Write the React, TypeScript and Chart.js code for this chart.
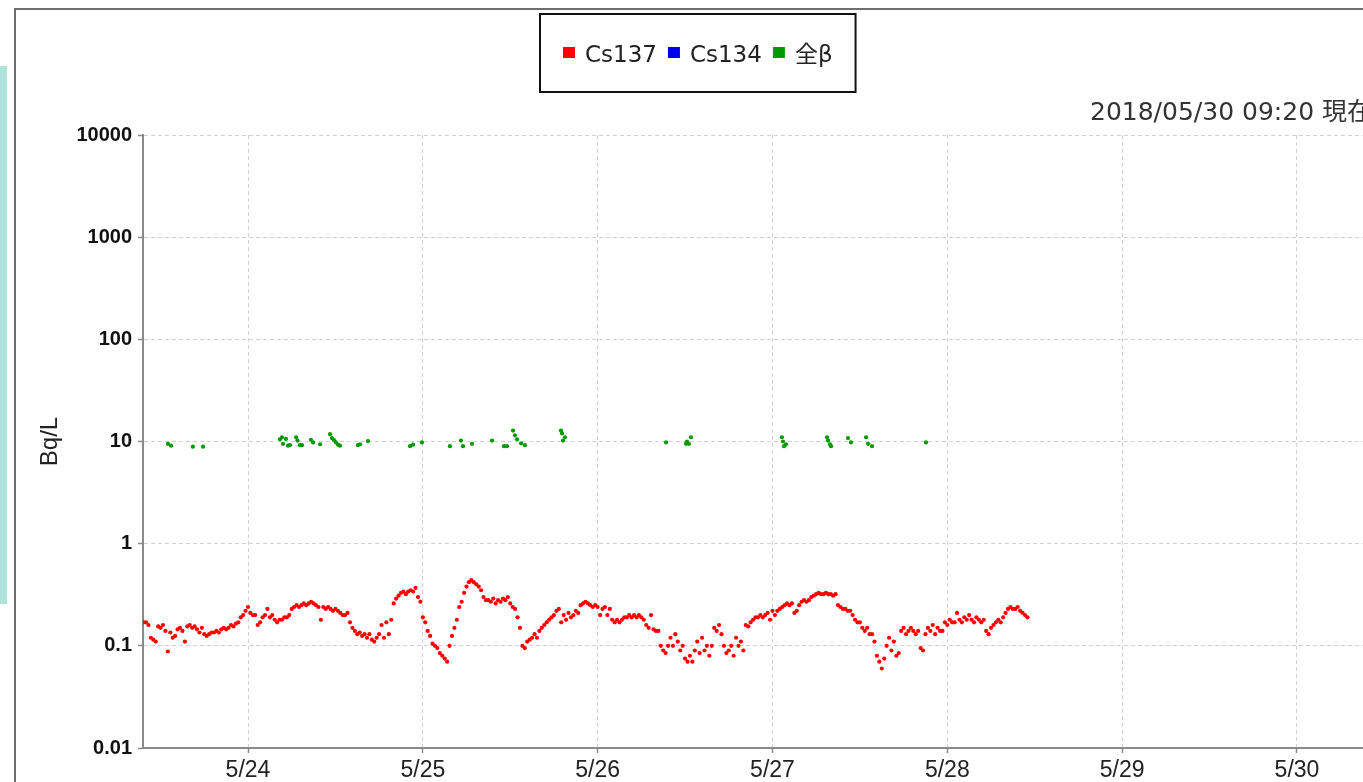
import { useEffect, useRef } from 'react';
import { Chart, registerables } from 'chart.js';

Chart.register(...registerables);

const seriesNames = ['Cs137', 'Cs134', '全β'];
const seriesColors = ['#ff0000', '#0000ee', '#009a00'];
const updatedLabel = '2018/05/30 09:20 現在';
const yAxisTitle = 'Bq/L';

const yTickValues = [0.01, 0.1, 1, 10, 100, 1000, 10000];
const yTickLabels = ['0.01', '0.1', '1', '10', '100', '1000', '10000'];
const xTickDays = [24, 25, 26, 27, 28, 29, 30];
const xTickLabels = ['5/24', '5/25', '5/26', '5/27', '5/28', '5/29', '5/30'];

// x axis in "day of May" (decimal days)
const xMinDay = 23.3994;
const xMaxDay = 30.3994;

// Cs137: one reading every 20 minutes from 5/23 09:40
const cs137StartDay = 23 + (9 * 60 + 40) / 1440;
const cs137StepDays = 20 / 1440;
const cs137Values = [
  0.17, 0.17, 0.16, 0.12, 0.115, 0.11, 0.155, 0.15, 0.16, 0.14, 0.088,
  0.135, 0.12, 0.125, 0.145, 0.15, 0.14, 0.11, 0.155, 0.16, 0.15, 0.155,
  0.145, 0.135, 0.15, 0.13, 0.125, 0.13, 0.135, 0.135, 0.14, 0.135,
  0.145, 0.15, 0.145, 0.15, 0.16, 0.155, 0.165, 0.17, 0.19, 0.2, 0.22, 0.24,
  0.21, 0.2, 0.2, 0.16, 0.17, 0.19, 0.2, 0.23, 0.19, 0.2, 0.18,
  0.17, 0.18, 0.18, 0.19, 0.19, 0.2, 0.23, 0.24, 0.25, 0.24, 0.25, 0.26, 0.25, 0.26,
  0.27, 0.26, 0.25, 0.24, 0.18, 0.24, 0.23, 0.24, 0.23, 0.22, 0.23,
  0.22, 0.21, 0.2, 0.2, 0.21, 0.17, 0.15, 0.14, 0.13, 0.135, 0.125, 0.13, 0.12, 0.13,
  0.115, 0.11, 0.12, 0.13, 0.16, 0.12, 0.17, 0.13, 0.18, 0.26, 0.29,
  0.31, 0.33, 0.34, 0.32, 0.34, 0.35, 0.34, 0.37, 0.3, 0.27, 0.19, 0.17,
  0.14, 0.125, 0.105, 0.1, 0.095, 0.085, 0.08, 0.075, 0.07, 0.1, 0.125, 0.15, 0.18,
  0.24, 0.27, 0.33, 0.38, 0.42, 0.44, 0.42, 0.4, 0.38, 0.35, 0.3, 0.28, 0.28, 0.27,
  0.29, 0.26, 0.28, 0.27, 0.29, 0.28, 0.3, 0.26, 0.24, 0.23, 0.19, 0.15, 0.1, 0.095,
  0.11, 0.115, 0.12, 0.13, 0.12, 0.14, 0.15, 0.16, 0.17, 0.18, 0.19, 0.2, 0.22, 0.23,
  0.17, 0.2, 0.18, 0.21, 0.19, 0.2, 0.22, 0.21, 0.25, 0.26, 0.27, 0.26, 0.25,
  0.24, 0.25, 0.24, 0.2, 0.23, 0.24, 0.2, 0.23, 0.18, 0.17, 0.18, 0.17, 0.18, 0.19,
  0.19, 0.2, 0.19, 0.2, 0.19, 0.2, 0.19, 0.18, 0.16, 0.15, 0.2, 0.145, 0.14, 0.14,
  0.1, 0.09, 0.085, 0.1, 0.12, 0.1, 0.13, 0.11, 0.09, 0.1, 0.075, 0.07, 0.08, 0.07, 0.09,
  0.11, 0.085, 0.12, 0.09, 0.1, 0.08, 0.1, 0.15, 0.14, 0.16, 0.13,
  0.1, 0.085, 0.09, 0.1, 0.08, 0.12, 0.1, 0.11, 0.09, 0.16, 0.155, 0.17,
  0.18, 0.19, 0.19, 0.2, 0.19, 0.2, 0.21, 0.18, 0.22, 0.2, 0.22, 0.23,
  0.24, 0.25, 0.26, 0.25, 0.26, 0.21, 0.22, 0.25, 0.27, 0.28, 0.27, 0.28, 0.3,
  0.31, 0.32, 0.33, 0.32, 0.32, 0.33, 0.32, 0.32, 0.31, 0.32,
  0.25, 0.24, 0.23, 0.23, 0.22, 0.22, 0.2, 0.18, 0.17, 0.17, 0.15, 0.14, 0.15, 0.13, 0.13,
  0.11, 0.08, 0.07, 0.06, 0.075, 0.1, 0.12, 0.09, 0.11, 0.08, 0.085,
  0.14, 0.15, 0.13, 0.14, 0.15, 0.14, 0.13, 0.14, 0.095, 0.09, 0.13,
  0.15, 0.14, 0.16, 0.13, 0.15, 0.14, 0.14, 0.17, 0.16, 0.18, 0.17, 0.17, 0.21, 0.18,
  0.17, 0.19, 0.18, 0.2, 0.18, 0.17, 0.19, 0.18, 0.17, 0.18, 0.14, 0.13, 0.15,
  0.16, 0.17, 0.18, 0.17, 0.19, 0.21, 0.23, 0.24, 0.23, 0.23, 0.24, 0.22,
  0.21, 0.2, 0.19,
];

// Cs134: no detected values in the period
const cs134Days: number[] = [];
const cs134Values: number[] = [];

// 全β readings (day of May, Bq/L)
const betaDays = [
  23.542, 23.560, 23.685, 23.743,
  24.183, 24.194, 24.200, 24.217, 24.229, 24.240,
  24.275, 24.283, 24.297, 24.309, 24.360, 24.372, 24.412,
  24.469, 24.480, 24.492, 24.503, 24.515, 24.526,
  24.629, 24.641, 24.686, 24.927, 24.944, 24.995,
  25.155, 25.218, 25.230, 25.281, 25.396, 25.464, 25.481,
  25.516, 25.527, 25.539, 25.562, 25.584,
  25.790, 25.796, 25.802, 25.813,
  26.391, 26.505, 26.511, 26.522, 26.534,
  27.054, 27.060, 27.066, 27.077,
  27.312, 27.318, 27.329, 27.335, 27.432, 27.449,
  27.535, 27.547, 27.569, 27.878,
];
const betaValues = [
  9.5, 9.1, 8.9, 8.9,
  10.5, 11.0, 9.5, 10.6, 9.1, 9.2,
  11.0, 10.2, 9.2, 9.2, 10.4, 9.8, 9.4,
  11.8, 10.8, 10.3, 9.8, 9.3, 9.1,
  9.2, 9.4, 10.1, 9.0, 9.3, 9.8,
  9.0, 10.2, 9.0, 9.5, 10.2, 9.0, 9.0,
  12.8, 11.5, 10.5, 9.6, 9.2,
  12.8, 12.0, 10.2, 11.0,
  9.8, 9.5, 10.0, 9.5, 11.0,
  11.0, 10.0, 9.0, 9.4,
  11.0, 10.2, 9.4, 9.0, 10.8, 9.8,
  11.0, 9.5, 9.0, 9.8,
];

const CANVAS_W = 1420;
const CANVAS_H = 782;

const decorPlugin = {
  id: 'decor',
  afterDraw(chart: any) {
    const ctx = chart.ctx as CanvasRenderingContext2D;
    ctx.save();
    // boxed legend
    ctx.font = '23px "DejaVu Sans", "Noto Sans CJK JP"';
    const sq = 12;
    const gapBoxText = 10;
    const gapItems = 11;
    const widths = seriesNames.map((n) => ctx.measureText(n).width);
    const content =
      widths.reduce((a, w) => a + sq + gapBoxText + w, 0) + gapItems * (seriesNames.length - 1);
    const cx = 698;
    const boxW = content + 46;
    const boxLeft = Math.round(cx - boxW / 2);
    ctx.fillStyle = '#ffffff';
    ctx.fillRect(boxLeft, 14, boxW, 78);
    ctx.lineWidth = 2;
    ctx.strokeStyle = '#111111';
    ctx.strokeRect(boxLeft, 14, boxW, 78);
    let x = boxLeft + 23;
    ctx.textBaseline = 'alphabetic';
    ctx.textAlign = 'left';
    seriesNames.forEach((name, i) => {
      ctx.fillStyle = seriesColors[i];
      ctx.fillRect(x, 47, sq, 11);
      x += sq + gapBoxText;
      ctx.fillStyle = '#222222';
      ctx.fillText(name, x, 62);
      x += widths[i] + gapItems;
    });
    // timestamp
    ctx.font = '25px "DejaVu Sans", "Noto Sans CJK JP"';
    ctx.fillStyle = '#333333';
    ctx.fillText(updatedLabel, 1090, 120);
    ctx.restore();
  },
};

export default function App() {
  const canvasRef = useRef<HTMLCanvasElement>(null);

  useEffect(() => {
    const canvas = canvasRef.current;
    if (!canvas) return;
    const pointCommon = {
      pointRadius: 2.1,
      pointHoverRadius: 2.1,
      pointBorderWidth: 0,
      borderWidth: 0,
      showLine: false,
    };
    const chart = new Chart(canvas, {
      type: 'scatter',
      data: {
        datasets: [
          {
            label: seriesNames[0],
            data: cs137Values.map((v, i) => ({ x: cs137StartDay + i * cs137StepDays, y: v })),
            backgroundColor: seriesColors[0],
            borderColor: seriesColors[0],
            ...pointCommon,
          },
          {
            label: seriesNames[1],
            data: cs134Days.map((d, i) => ({ x: d, y: cs134Values[i] })),
            backgroundColor: seriesColors[1],
            borderColor: seriesColors[1],
            ...pointCommon,
          },
          {
            label: seriesNames[2],
            data: betaDays.map((d, i) => ({ x: d, y: betaValues[i] })),
            backgroundColor: seriesColors[2],
            borderColor: seriesColors[2],
            ...pointCommon,
          },
        ],
      },
      options: {
        responsive: false,
        animation: false,
        events: [],
        layout: { padding: { top: 135, right: CANVAS_W - 1366.8, bottom: 0, left: 0 } },
        plugins: {
          legend: { display: false },
          tooltip: { enabled: false },
        },
        scales: {
          x: {
            type: 'linear',
            min: xMinDay,
            max: xMaxDay,
            afterBuildTicks: (s: any) => {
              s.ticks = xTickDays.map((v) => ({ value: v }));
            },
            afterFit: (s: any) => {
              s.height = 34;
            },
            ticks: {
              autoSkip: false,
              maxRotation: 0,
              padding: 4,
              color: '#222222',
              font: { family: '"Liberation Sans", Arial, sans-serif', size: 23 },
              callback: (v: any) => xTickLabels[xTickDays.indexOf(Number(v))] ?? '',
            },
            grid: {
              color: '#d2d2d2',
              lineWidth: 1,
              tickColor: '#888888',
              tickLength: 5,
              tickWidth: 1.5,
              tickBorderDash: [],
            },
            border: { display: true, color: '#8a8a8a', width: 2, dash: [4, 3] },
          },
          y: {
            type: 'logarithmic',
            min: 0.01,
            max: 10000,
            afterBuildTicks: (s: any) => {
              s.ticks = yTickValues.map((v) => ({ value: v }));
            },
            afterFit: (s: any) => {
              s.width = 143;
            },
            ticks: {
              padding: 6,
              color: '#111111',
              font: { family: '"Liberation Sans", Arial, sans-serif', size: 20, weight: 'bold' },
              callback: (v: any) => {
                const idx = yTickValues.findIndex((t) => Math.abs(t - Number(v)) < t * 1e-6);
                return idx >= 0 ? yTickLabels[idx] : '';
              },
            },
            title: {
              display: true,
              text: yAxisTitle,
              color: '#222222',
              font: { family: '"Liberation Sans", Arial, sans-serif', size: 24 },
              padding: { top: 36, bottom: 0 },
            },
            grid: {
              color: '#d2d2d2',
              lineWidth: 1,
              tickColor: '#888888',
              tickLength: 5,
              tickWidth: 1.5,
              tickBorderDash: [],
            },
            border: { display: true, color: '#8a8a8a', width: 2, dash: [4, 3] },
          },
        },
      } as any,
      plugins: [decorPlugin],
    });
    return () => chart.destroy();
  }, []);

  return (
    <div
      style={{
        position: 'fixed',
        left: 0,
        top: 0,
        width: 1363,
        height: 782,
        overflow: 'hidden',
        background: '#ffffff',
      }}
    >
      <div
        style={{
          position: 'absolute',
          left: 0,
          top: 66,
          width: 7,
          height: 538,
          background: '#aee3da',
        }}
      />
      <div
        style={{
          position: 'absolute',
          left: 14,
          top: 8,
          width: 1500,
          height: 1000,
          borderTop: '2px solid #6e6e6e',
          borderLeft: '2px solid #6e6e6e',
        }}
      />
      <canvas
        ref={canvasRef}
        width={CANVAS_W}
        height={CANVAS_H}
        style={{ position: 'absolute', left: 0, top: 0, width: CANVAS_W, height: CANVAS_H }}
      />
    </div>
  );
}
